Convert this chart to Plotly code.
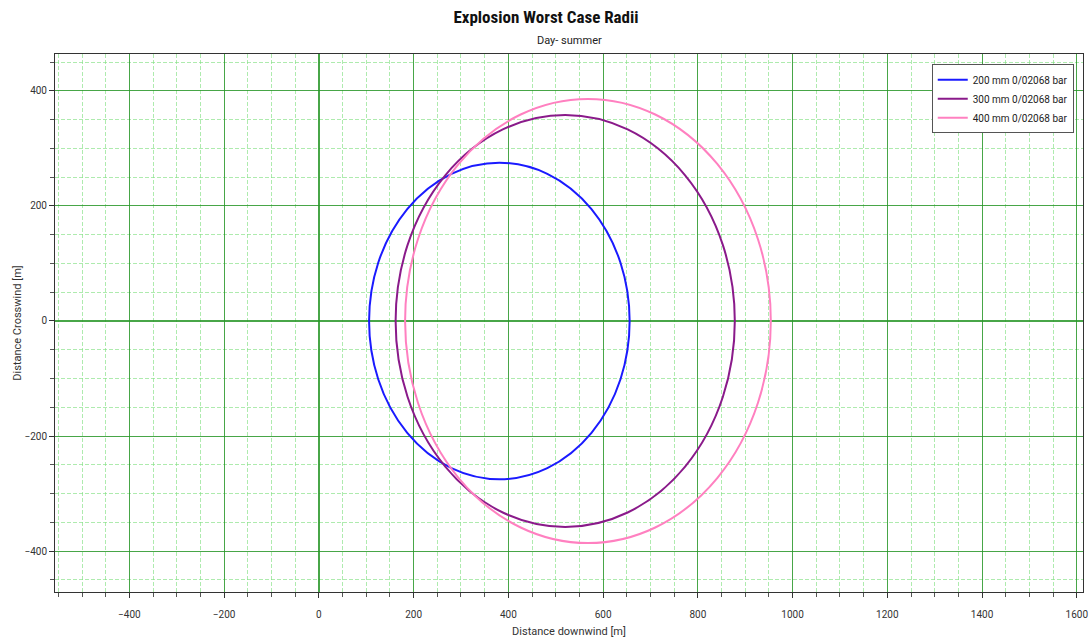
import plotly.graph_objects as go

# Data: worst-case explosion radii (circles)
series_names = ["200 mm 0/02068 bar", "300 mm 0/02068 bar", "400 mm 0/02068 bar"]
center_x = [381, 520, 568]
center_y = [0, 0, 0]
radius = [275, 358, 386]
colors = ["#1a1aff", "#8a1a8a", "#ff80c0"]

x_range = [-557, 1613]
y_range = [-471, 464]

fig = go.Figure()

shapes = []
for name, cx, cy, r, c in zip(series_names, center_x, center_y, radius, colors):
    shapes.append(dict(type="circle", xref="x", yref="y",
                       x0=cx - r, x1=cx + r, y0=cy - r, y1=cy + r,
                       line=dict(color=c, width=2), layer="above"))
    fig.add_trace(go.Scatter(x=[None], y=[None], mode="lines", name=name,
                             line=dict(color=c, width=2)))

major_grid = "rgba(40,150,40,0.85)"
minor_grid = "rgba(130,225,130,0.65)"
axis_font = dict(family="Roboto, Arial, sans-serif", size=10, color="#333")

fig.update_layout(
    width=1092, height=642,
    margin=dict(l=55, r=9, t=54, b=50),
    plot_bgcolor="white", paper_bgcolor="white",
    shapes=shapes,
    title=dict(text="<b>Explosion Worst Case Radii</b>", x=0.5, xref="container",
               xanchor="center", y=1 - 17 / 642, yref="container", yanchor="middle",
               font=dict(family="Liberation Sans Narrow, Roboto Condensed, Roboto, sans-serif",
                         size=17, color="#111")),
    annotations=[dict(text="Day- summer", xref="paper", yref="paper", x=0.5,
                      y=1 + (54 - 40) / 538, xanchor="center", yanchor="middle",
                      showarrow=False,
                      font=dict(family="Roboto, Arial, sans-serif", size=11, color="#222"))],
    showlegend=True,
    legend=dict(x=0.991, y=0.981, xanchor="right", yanchor="top",
                bgcolor="white", bordercolor="#555", borderwidth=1,
                font=dict(family="Roboto, Arial, sans-serif", size=10, color="#222"),
                itemwidth=30, tracegroupgap=0),
)

common_minor = dict(dtick=50, tick0=0, showgrid=True, gridcolor=minor_grid,
                    griddash="4px,2px", gridwidth=1, ticks="outside", ticklen=4,
                    tickcolor="#555")

fig.update_xaxes(
    range=x_range, dtick=200, tick0=0, automargin=False,
    showgrid=True, gridcolor=major_grid, gridwidth=1,
    zeroline=True, zerolinecolor=major_grid, zerolinewidth=1.5,
    showline=True, linecolor="#333", linewidth=1, mirror=True,
    ticks="outside", ticklen=5, tickcolor="#333",
    tickfont=axis_font, ticklabelstandoff=8,
    minor=common_minor,
    title=dict(text="Distance downwind [m]", standoff=8,
               font=dict(family="Roboto, Arial, sans-serif", size=11, color="#333")),
)
fig.update_yaxes(
    range=y_range, dtick=200, tick0=0, automargin=False,
    showgrid=True, gridcolor=major_grid, gridwidth=1,
    zeroline=True, zerolinecolor=major_grid, zerolinewidth=1.5,
    showline=True, linecolor="#333", linewidth=1, mirror=True,
    ticks="outside", ticklen=5, tickcolor="#333",
    tickfont=axis_font,
    minor=common_minor,
    title=dict(text="Distance Crosswind [m]", standoff=0,
               font=dict(family="Roboto, Arial, sans-serif", size=11, color="#333")),
)

fig.write_html("out.html")
